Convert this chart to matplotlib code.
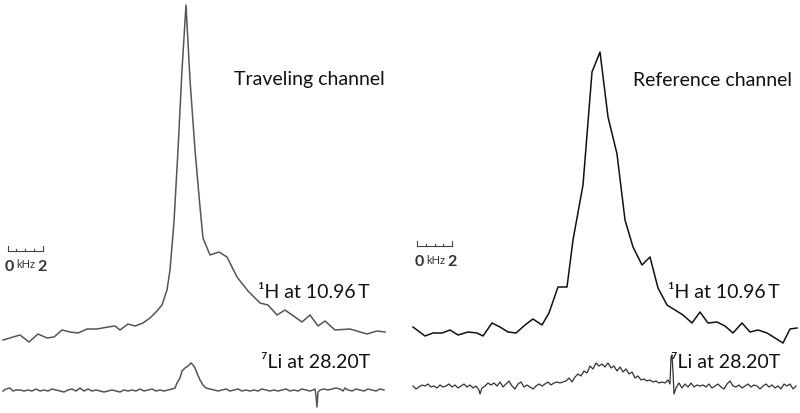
import numpy as np
import matplotlib
matplotlib.use("Agg")
import matplotlib.pyplot as plt

# all values, in pixel units (y counted upward from the bottom)
H = 413

# traveling channel, 1H
trav_h_x = [3, 20, 29, 38, 47, 54, 62, 70, 78, 87, 97, 108, 115, 120, 128, 135, 143, 150, 157, 162,
            167, 170, 174, 178, 182, 186, 190, 195, 200, 203, 210, 219, 227, 237, 248, 260, 268, 277,
            285, 302, 310, 318, 325, 335, 350, 367, 377, 385]
trav_h_y = [340, 335, 342, 334, 338, 337, 330, 332, 333, 329, 329, 327, 326, 330, 324, 326, 323, 318, 311, 305,
            290, 270, 222, 150, 70, 5, 80, 150, 207, 238, 255, 252, 257, 277, 291, 303, 305, 315,
            310, 322, 315, 326, 321, 330, 329, 334, 331, 332]

# traveling channel, 7Li
trav_li_x = [3, 6, 10, 13, 16, 20, 24, 28, 32, 36, 40, 44, 48, 52, 56, 60, 64, 68, 72, 76, 80, 84, 88, 92,
             96, 100, 104, 108, 112, 116, 120, 124, 128, 132, 136, 140, 144, 148, 152, 156, 160, 164, 168,
             172, 175, 177, 180, 182, 185, 188, 191, 193, 195, 197, 200, 203, 206, 210, 214, 218, 222, 226,
             230, 234, 238, 242, 246, 250, 254, 258, 262, 266, 270, 274, 278, 282, 286, 290, 294, 298, 302,
             306, 310, 313, 315, 316, 317, 318, 320, 324, 328, 332, 336, 340, 343, 345, 348, 352, 356, 360,
             364, 368, 372, 376, 380, 384]
trav_li_y = [391, 389, 388, 391, 390, 390, 391, 390, 391, 389, 391, 390, 391, 389, 390, 391, 392, 390, 389, 391,
             388, 391, 389, 391, 390, 391, 392, 391, 390, 391, 392, 390, 391, 390, 391, 389, 391, 390, 389,
             391, 390, 391, 390, 389, 388, 383, 378, 371, 368, 366, 363, 365, 368, 373, 380, 385, 388, 389,
             390, 391, 390, 389, 391, 390, 389, 391, 390, 391, 390, 391, 389, 390, 391, 390, 391, 390, 389,
             391, 390, 391, 389, 390, 391, 390, 389, 396, 407, 392, 390, 389, 390, 389, 388, 389, 391, 388,
             390, 391, 389, 390, 391, 389, 390, 391, 389, 390]

# reference channel, 1H
ref_h_x = [413, 425, 433, 442, 450, 458, 468, 477, 483, 492, 500, 508, 516, 525, 533, 542, 549, 558, 567,
           573, 583, 592, 600, 608, 617, 625, 633, 642, 650, 658, 667, 683, 692, 700, 708, 717, 725, 733,
           742, 750, 758, 767, 783, 790, 797]
ref_h_y = [327, 336, 333, 333, 330, 335, 332, 333, 336, 323, 327, 332, 333, 325, 319, 325, 313, 287, 287,
           240, 185, 72, 52, 117, 154, 220, 247, 265, 257, 288, 305, 315, 323, 312, 323, 322, 326, 333,
           323, 332, 330, 333, 343, 329, 328]

# reference channel, 7Li
ref_li_x = [413, 416, 419, 422, 425, 428, 431, 434, 437, 440, 443, 446, 449, 452, 455, 458, 461, 464, 467,
            470, 473, 476, 479, 480, 482, 485, 488, 491, 494, 497, 500, 503, 506, 509, 512, 515, 518, 521,
            524, 527, 530, 533, 536, 539, 542, 545, 548, 551, 554, 557, 560, 563, 566, 569, 572, 575, 578,
            581, 584, 587, 590, 593, 596, 599, 602, 605, 608, 611, 614, 617, 620, 623, 626, 629, 632, 635,
            638, 641, 644, 647, 650, 653, 656, 659, 662, 665, 668, 670, 671, 672, 673, 674, 676, 679, 682,
            685, 688, 691, 694, 697, 700, 703, 706, 709, 712, 715, 718, 721, 724, 727, 730, 733, 736, 739,
            742, 745, 748, 751, 754, 757, 760, 763, 766, 769, 772, 775, 778, 781, 784, 787, 790, 793, 796]
ref_li_y = [386, 389, 387, 385, 386, 384, 387, 386, 388, 385, 387, 386, 384, 387, 385, 388, 386, 384, 387,
            385, 388, 386, 390, 394, 388, 386, 383, 385, 383, 386, 382, 387, 384, 381, 386, 389, 384, 382,
            387, 385, 387, 389, 386, 384, 386, 384, 382, 385, 383, 382, 383, 382, 381, 378, 382, 377, 374,
            376, 371, 373, 366, 369, 363, 366, 364, 367, 363, 368, 366, 371, 367, 372, 369, 374, 372, 378,
            376, 380, 379, 381, 380, 382, 381, 383, 382, 383, 380, 384, 357, 355, 372, 394, 388, 383, 388,
            384, 387, 383, 387, 385, 386, 385, 387, 384, 388, 386, 384, 387, 389, 384, 381, 386, 387, 385,
            388, 386, 384, 387, 385, 386, 389, 386, 384, 387, 385, 388, 386, 389, 384, 386, 384, 389, 386]

# scale bar: 0..2 kHz in 0.5 kHz steps, 2 kHz = 35 px
bar_khz = [0, 0.5, 1.0, 1.5, 2.0]
px_per_khz = 17.5

fam = ["Lato", "DejaVu Sans"]

fig = plt.figure(figsize=(8, 4.13), dpi=100)
ax = fig.add_axes([0, 0, 1, 1])
ax.set_xlim(0, 800)
ax.set_ylim(0, H)
ax.axis("off")

def up(ys):
    return [H - v for v in ys]

ax.plot(trav_h_x, up(trav_h_y), color="#555555", lw=1.1)
ax.plot(trav_li_x, up(trav_li_y), color="#555555", lw=1.1)
ax.plot(ref_h_x, up(ref_h_y), color="#111111", lw=1.1)
ax.plot(ref_li_x, up(ref_li_y), color="#333333", lw=0.9)

# scale bars
for x0, ybar, ytxt in [(7.5, 251, 267), (417, 246, 262)]:
    xs = [x0 + k * px_per_khz for k in bar_khz]
    ax.plot([xs[0], xs[-1]], [H - ybar, H - ybar], color="#444444", lw=0.8)
    for i, xx in enumerate(xs):
        tick = 5 if i in (0, len(xs) - 1) else 2
        ax.plot([xx, xx], [H - ybar, H - ybar + tick], color="#444444", lw=0.8)
    ax.text(xs[0] + 2, H - ytxt, "0", fontsize=11.5, fontweight="bold", ha="center", va="center",
            family=fam, color="#333333")
    ax.text((xs[0] + xs[-1]) / 2 + 1, H - ytxt + 2, "kHz", fontsize=8, ha="center", va="center",
            family=fam, color="#333333")
    ax.text(xs[-1], H - ytxt, "2", fontsize=11.5, fontweight="bold", ha="center", va="center",
            family=fam, color="#333333")

# labels
for x, y, s in [(385, 80, "Traveling channel"), (792, 80, "Reference channel"),
                (370, 293, "\u00b9H at 10.96\u2009T"), (780, 293, "\u00b9H at 10.96\u2009T"),
                (370, 362, "\u2077Li at 28.20T"), (780, 362, "\u2077Li at 28.20T")]:
    ax.text(x, H - y, s, fontsize=14, ha="right", va="center", family=fam, color="#111111")

fig.savefig("out.png", dpi=100)
